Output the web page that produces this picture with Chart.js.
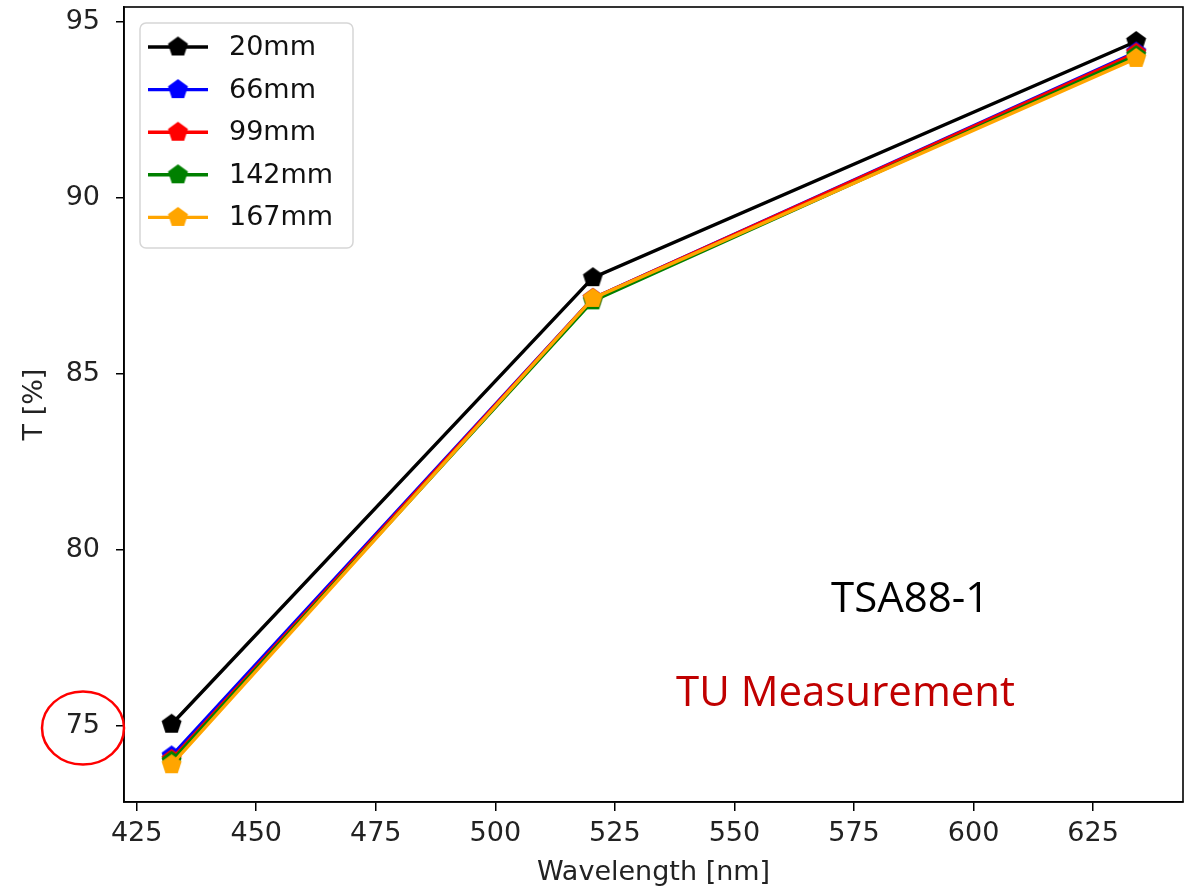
<!DOCTYPE html>
<html>
<head>
<meta charset="utf-8">
<title>TSA88-1 transmission</title>
<script src="https://cdn.jsdelivr.net/npm/chart.js@4/dist/chart.umd.min.js"></script>
<style>
  html, body { margin: 0; padding: 0; background: #fff; }
  #wrap { position: relative; width: 1188px; height: 890px; }
</style>
</head>
<body>
<div id="wrap"><canvas id="chart"></canvas></div>
<script>
// Measured transmission at three LED wavelengths, per distance
const WAVELENGTHS = [432.3, 520.4, 634];
const T_20MM = [75.05, 87.74, 94.45];
const T_66MM = [74.15, 87.15, 94.15];
const T_99MM = [74.05, 87.15, 94.12];
const T_142MM = [74.0, 87.08, 94.05];
const T_167MM = [73.9, 87.15, 93.97];

const SERIES_LABELS = ['20mm', '66mm', '99mm', '142mm', '167mm'];
const SERIES_COLORS = ['#000000', '#0000ff', '#ff0000', '#008000', '#ffa500'];
const SERIES_VALUES = [T_20MM, T_66MM, T_99MM, T_142MM, T_167MM];

const X_TICKS = [425, 450, 475, 500, 525, 550, 575, 600, 625];
const Y_TICKS = [75, 80, 85, 90, 95];

const FONT = "'DejaVu Sans', sans-serif";
const NOTE_FONT = "'Open Sans', 'Noto Sans', sans-serif";

// pentagon marker, like matplotlib's 'p'
function pentagon(color, r) {
  const c = document.createElement('canvas');
  const s = Math.ceil(r * 2 + 2);
  c.width = s;
  c.height = s;
  const g = c.getContext('2d');
  g.beginPath();
  for (let i = 0; i < 5; i++) {
    const a = -Math.PI / 2 + i * 2 * Math.PI / 5;
    const px = s / 2 + r * Math.cos(a);
    const py = s / 2 + r * Math.sin(a);
    if (i === 0) g.moveTo(px, py); else g.lineTo(px, py);
  }
  g.closePath();
  g.fillStyle = color;
  g.fill();
  return c;
}

const datasets = SERIES_LABELS.map((label, i) => ({
  label: label,
  data: WAVELENGTHS.map((w, k) => ({ x: w, y: SERIES_VALUES[i][k] })),
  borderColor: SERIES_COLORS[i],
  backgroundColor: SERIES_COLORS[i],
  borderWidth: 3.4,
  pointStyle: pentagon(SERIES_COLORS[i], 10.5),
  pointRadius: 10,
  tension: 0,
  fill: false,
  order: SERIES_LABELS.length - i   // later series drawn on top
}));

// axes frame on all four sides
const framePlugin = {
  id: 'frame',
  afterDraw(chart) {
    const { ctx, chartArea: a } = chart;
    ctx.save();
    ctx.strokeStyle = '#000';
    ctx.lineWidth = 1.6;
    ctx.strokeRect(a.left, a.top, a.right - a.left, a.bottom - a.top);
    ctx.restore();
  }
};

// matplotlib-style legend box in the upper left corner
const legendBoxPlugin = {
  id: 'legendBox',
  afterDatasetsDraw(chart) {
    const { ctx, chartArea: a } = chart;
    const x0 = a.left + 16, y0 = a.top + 16;
    const w = 213, h = 225, rowH = 42.6;
    ctx.save();
    ctx.beginPath();
    ctx.roundRect(x0, y0, w, h, 6);
    ctx.fillStyle = 'rgba(255,255,255,0.85)';
    ctx.fill();
    ctx.strokeStyle = '#d6d6d6';
    ctx.lineWidth = 1.5;
    ctx.stroke();
    ctx.font = '27px ' + FONT;
    ctx.textBaseline = 'middle';
    chart.data.datasets.forEach((ds, i) => {
      const cy = y0 + 24 + i * rowH;
      ctx.strokeStyle = ds.borderColor;
      ctx.lineWidth = 3.4;
      ctx.beginPath();
      ctx.moveTo(x0 + 8, cy);
      ctx.lineTo(x0 + 68, cy);
      ctx.stroke();
      const img = ds.pointStyle;
      ctx.drawImage(img, x0 + 38 - img.width / 2, cy - img.height / 2);
      ctx.fillStyle = '#111';
      ctx.fillText(ds.label, x0 + 89, cy + 1);
    });
    ctx.restore();
  }
};

// slide annotations and the circled 75 tick
const notesPlugin = {
  id: 'notes',
  afterDraw(chart) {
    const ctx = chart.ctx;
    ctx.save();
    ctx.font = '42px ' + NOTE_FONT;
    ctx.textBaseline = 'alphabetic';
    ctx.fillStyle = '#000';
    ctx.fillText('TSA88-1', 831, 612);
    ctx.fillStyle = '#c00000';
    ctx.fillText('TU Measurement', 676, 706);
    ctx.beginPath();
    ctx.ellipse(83, 728, 41, 36.5, 0, 0, Math.PI * 2);
    ctx.strokeStyle = '#ff0000';
    ctx.lineWidth = 2.5;
    ctx.stroke();
    ctx.restore();
  }
};

new Chart(document.getElementById('chart'), {
  type: 'line',
  data: { datasets: datasets },
  plugins: [framePlugin, legendBoxPlugin, notesPlugin],
  options: {
    responsive: true,
    maintainAspectRatio: false,
    animation: false,
    layout: { autoPadding: false, padding: { top: 7, right: 5, left: 0, bottom: 0 } },
    plugins: {
      legend: { display: false },
      tooltip: { enabled: false }
    },
    scales: {
      x: {
        type: 'linear',
        min: 422.35,
        max: 643.8,
        afterBuildTicks: axis => { axis.ticks = X_TICKS.map(v => ({ value: v })); },
        afterFit: axis => {
          axis.height = 88;
          axis.paddingLeft = 0;
          axis.paddingRight = 0;
        },
        grid: { display: true, drawOnChartArea: false, drawTicks: true, tickLength: 9, color: '#000', lineWidth: 1.5 },
        border: { display: true, color: '#000', width: 1.6 },
        ticks: { color: '#222', font: { family: FONT, size: 27 }, padding: 7, maxRotation: 0, autoSkip: false },
        title: { display: true, text: 'Wavelength [nm]', color: '#222', font: { family: FONT, size: 27 }, padding: { top: 0, bottom: 1 } }
      },
      y: {
        type: 'linear',
        min: 72.84,
        max: 95.43,
        afterBuildTicks: axis => { axis.ticks = Y_TICKS.map(v => ({ value: v })); },
        afterFit: axis => {
          axis.width = 124;
          axis.paddingTop = 0;
          axis.paddingBottom = 0;
        },
        grid: { display: true, drawOnChartArea: false, drawTicks: true, tickLength: 8, color: '#000', lineWidth: 1.5 },
        border: { display: true, color: '#000', width: 1.6 },
        ticks: { color: '#222', font: { family: FONT, size: 27 }, padding: 16 },
        title: { display: true, text: 'T [%]', color: '#222', font: { family: FONT, size: 27 }, padding: { top: 19, bottom: 0 } }
      }
    }
  }
});
</script>
</body>
</html>
